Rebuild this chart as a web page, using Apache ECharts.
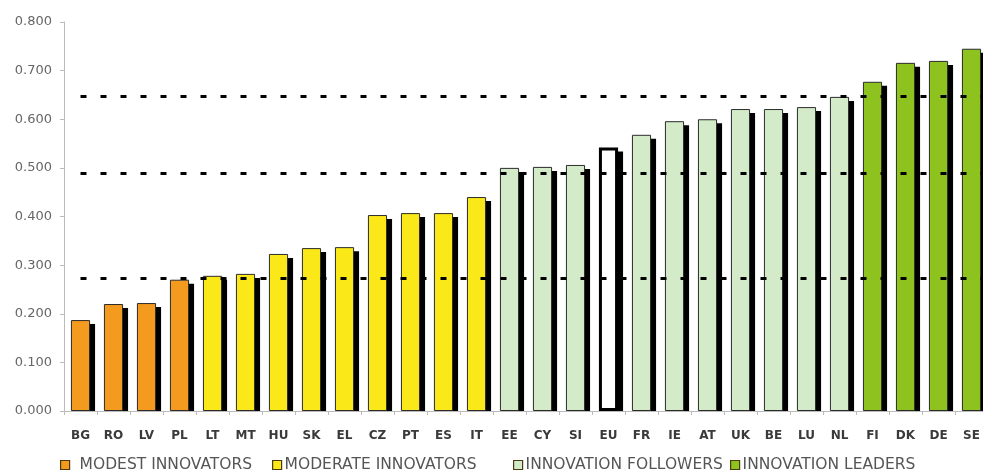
<!DOCTYPE html>
<html>
<head>
<meta charset="utf-8">
<script src="https://cdn.jsdelivr.net/npm/echarts@6/dist/echarts.min.js"></script>
<style>
html,body{margin:0;padding:0;background:#fff;}
#c{width:983px;height:473px;}
</style>
</head>
<body>
<div id="c"></div>
<script>
var categories = ['BG','RO','LV','PL','LT','MT','HU','SK','EL','CZ','PT','ES','IT','EE','CY','SI','EU','FR','IE','AT','UK','BE','LU','NL','FI','DK','DE','SE'];
var values = [0.187,0.220,0.222,0.270,0.278,0.282,0.323,0.335,0.337,0.403,0.407,0.407,0.440,0.500,0.502,0.506,0.542,0.568,0.596,0.600,0.621,0.621,0.625,0.646,0.677,0.716,0.720,0.745];
var groups = [0,0,0,0,1,1,1,1,1,1,1,1,1,2,2,2,2,2,2,2,2,2,2,2,3,3,3,3];
var groupNames = ['MODEST INNOVATORS','MODERATE INNOVATORS','INNOVATION FOLLOWERS','INNOVATION LEADERS'];
var groupColors = ['#F39A1F','#FBE819','#D3EBC9','#8DC21F'];
var highlight = 'EU';
var thresholds = [0.648, 0.488, 0.273];
var yTicks = ['0.000','0.100','0.200','0.300','0.400','0.500','0.600','0.700','0.800'];
</script>
<script>
var W = 983, H = 473;
var chart = echarts.init(document.getElementById('c'), null, {renderer:'canvas', width: W, height: H});
var font = 'DejaVu Sans, Arial, sans-serif';
var G = {left: 64, top: 22, width: 924, height: 389};
var yMax = 0.8;
var sdx = 5, sdy = 4; // drop-shadow offset in px
var barW = '58%';

var series = groupNames.map(function(name, gi){
  return {
    name: name,
    type: 'bar',
    stack: 'all',
    barWidth: barW,
    xAxisIndex: 0,
    yAxisIndex: 0,
    z: 3,
    itemStyle: {
      color: groupColors[gi],
      borderColor: '#2b2b2b',
      borderWidth: 1
    },
    data: categories.map(function(c, i){
      if (groups[i] !== gi) return '-';
      if (c === highlight) {
        return {value: values[i], itemStyle: {color:'#fff', borderColor:'#000', borderWidth:3}};
      }
      return values[i];
    })
  };
});
// drop shadow bars, drawn in an offset copy of the grid
series.push({
  name: 'shadow',
  type: 'bar',
  barWidth: barW,
  xAxisIndex: 1,
  yAxisIndex: 1,
  z: 1,
  clip: true,
  silent: true,
  itemStyle: {color: '#000'},
  data: values.slice()
});
// threshold dashed lines
series.push({
  name: 'thr',
  type: 'line',
  xAxisIndex: 2,
  yAxisIndex: 0,
  data: [],
  silent: true,
  z: 10,
  markLine: {
    silent: true,
    z: 10,
    symbol: ['none','none'],
    label: {show:false},
    lineStyle: {color:'#000', width:3, type:[6,14]},
    data: thresholds.map(function(t){
      return [{coord:[0.5, t]}, {coord:[categories.length, t]}];
    })
  }
});

var legendLefts = [55, 267, 508, 725];
var legendPad = [5, -2, -2, -2];
var legends = groupNames.map(function(name, gi){
  return {
    data: [name],
    left: legendLefts[gi],
    top: 452,
    icon: 'rect',
    itemWidth: 9,
    itemHeight: 9,
    selectedMode: false,
    itemStyle: {borderColor:'#4a3a10', borderWidth:1.2},
    textStyle: {fontFamily: font, fontSize: 15.5, color: '#555', padding:[0,0,0,legendPad[gi]]}
  };
});

chart.setOption({
  animation: false,
  backgroundColor: '#fff',
  grid: [
    {left: G.left, top: G.top, width: G.width, height: G.height, containLabel: false, outerBoundsMode: 'none'},
    {left: G.left + sdx, top: G.top + sdy, width: G.width, height: G.height - sdy, containLabel: false, outerBoundsMode: 'none'}
  ],
  legend: legends,
  xAxis: [{
    type: 'category',
    gridIndex: 0,
    data: categories,
    z: 10,
    axisLine: {lineStyle: {color: '#bbb'}},
    axisTick: {show: true, length: 4, lineStyle:{color:'#bbb'}},
    axisLabel: {fontFamily: font, fontSize: 12, fontWeight: 'bold', color: '#3a3a3a', margin: 19, interval: 0}
  },{
    type: 'category',
    gridIndex: 1,
    data: categories,
    show: false
  },{
    type: 'value',
    gridIndex: 0,
    min: 0,
    max: categories.length,
    show: false
  }],
  yAxis: [{
    type: 'value',
    gridIndex: 0,
    min: 0,
    max: yMax,
    interval: 0.1,
    z: 10,
    splitLine: {show: false},
    axisLine: {show: true, lineStyle: {color: '#bbb'}},
    axisTick: {show: true, length: 4, lineStyle:{color:'#bbb'}},
    axisLabel: {
      fontFamily: font, fontSize: 13, color: '#666', margin: 12,
      formatter: function(v){ var i = Math.round(v*10); return yTicks[i] !== undefined ? yTicks[i] : v.toFixed(3); }
    }
  },{
    type: 'value',
    gridIndex: 1,
    min: sdy / G.height * yMax,
    max: yMax,
    show: false,
    splitLine: {show: false}
  }],
  series: series
});
</script>
</body>
</html>
